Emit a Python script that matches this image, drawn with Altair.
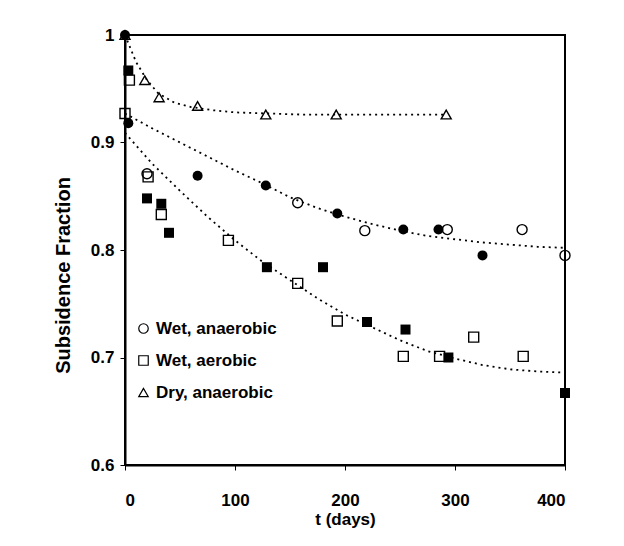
import altair as alt
import pandas as pd

series_names = ["Wet, anaerobic", "Wet, aerobic", "Dry, anaerobic"]
series_shapes = ["circle", "square", "triangle-up"]

# Wet, anaerobic (circles)
wan_open_t = [20, 157, 218, 293, 361, 400]
wan_open_y = [0.871, 0.844, 0.818, 0.819, 0.819, 0.795]
wan_fill_t = [0, 3, 66, 128, 193, 253, 285, 325]
wan_fill_y = [1.0, 0.918, 0.869, 0.860, 0.834, 0.819, 0.819, 0.795]

# Wet, aerobic (squares)
wae_open_t = [4, 0, 21, 33, 94, 157, 193, 253, 286, 317, 362]
wae_open_y = [0.958, 0.927, 0.868, 0.833, 0.809, 0.769, 0.734, 0.701, 0.701, 0.719, 0.701]
wae_fill_t = [3, 20, 33, 40, 129, 180, 220, 255, 294, 400]
wae_fill_y = [0.967, 0.848, 0.843, 0.816, 0.784, 0.784, 0.733, 0.726, 0.700, 0.667]

# Dry, anaerobic (triangles)
dan_open_t = [0, 18, 31, 66, 128, 192, 292]
dan_open_y = [1.0, 0.958, 0.942, 0.934, 0.926, 0.926, 0.926]

# Fitted curves
fit_dry_t = [0, 10, 20, 30, 45, 60, 80, 100, 130, 160, 200, 250, 292]
fit_dry_y = [1.0, 0.975, 0.958, 0.946, 0.937, 0.933, 0.930, 0.928, 0.927, 0.926, 0.926, 0.926, 0.926]
fit_wan_t = [0, 25, 50, 75, 100, 125, 150, 175, 200, 225, 250, 275, 300, 325, 350, 375, 400]
fit_wan_y = [0.927, 0.913, 0.900, 0.887, 0.874, 0.862, 0.849, 0.839, 0.831, 0.824, 0.818, 0.813, 0.810, 0.807, 0.805, 0.803, 0.802]
fit_wae_t = [0, 25, 50, 75, 100, 125, 150, 175, 200, 225, 250, 275, 300, 325, 350, 375, 400]
fit_wae_y = [0.909, 0.880, 0.855, 0.831, 0.809, 0.789, 0.772, 0.755, 0.740, 0.728, 0.716, 0.706, 0.699, 0.693, 0.689, 0.687, 0.686]


def frame(series, ts, ys):
    return pd.DataFrame({"series": series, "t": ts, "f": ys})


open_df = pd.concat([
    frame("Wet, anaerobic", wan_open_t, wan_open_y),
    frame("Wet, aerobic", wae_open_t, wae_open_y),
    frame("Dry, anaerobic", dan_open_t, dan_open_y),
], ignore_index=True)

fill_df = pd.concat([
    frame("Wet, anaerobic", wan_fill_t, wan_fill_y),
    frame("Wet, aerobic", wae_fill_t, wae_fill_y),
], ignore_index=True)

fit_df = pd.concat([
    frame("Dry, anaerobic", fit_dry_t, fit_dry_y),
    frame("Wet, anaerobic", fit_wan_t, fit_wan_y),
    frame("Wet, aerobic", fit_wae_t, fit_wae_y),
], ignore_index=True)

FONT = "Liberation Sans"

x_enc = alt.X(
    "t:Q",
    scale=alt.Scale(domain=[0, 400], nice=False),
    axis=alt.Axis(
        values=[0, 100, 200, 300, 400],
        title="t (days)",
        labelPadding=22,
        titlePadding=3,
    ),
)
y_enc = alt.Y(
    "f:Q",
    scale=alt.Scale(domain=[0.6, 1.0], nice=False, zero=False),
    axis=alt.Axis(
        values=[0.6, 0.7, 0.8, 0.9, 1.0],
        labelExpr="datum.value == 1 ? '1' : format(datum.value, '.1f')",
        title="Subsidence Fraction",
        labelPadding=6,
        titleX=-52,
        titleY=240,
        titleFontSize=20,
    ),
)

lines = alt.Chart(fit_df).mark_line(
    color="black", strokeDash=[2, 4], strokeWidth=1.8
).encode(x=x_enc, y=y_enc, detail="series:N", order="t:Q")

open_pts = alt.Chart(open_df).mark_point(
    filled=False, color="black", strokeWidth=1.4, size=100, opacity=1
).encode(
    x=x_enc,
    y=y_enc,
    shape=alt.Shape(
        "series:N",
        scale=alt.Scale(domain=series_names, range=series_shapes),
        legend=alt.Legend(
            title=None,
            orient="none",
            legendX=10,
            legendY=285,
            labelFont=FONT,
            labelFontSize=17,
            labelFontWeight="bold",
            labelColor="black",
            symbolSize=90,
            symbolStrokeWidth=1.2,
            rowPadding=14,
            labelOffset=4,
        ),
    ),
)

fill_pts = alt.Chart(fill_df).mark_point(
    filled=True, color="black", size=100, opacity=1
).encode(
    x=x_enc,
    y=y_enc,
    shape=alt.Shape(
        "series:N",
        scale=alt.Scale(domain=series_names, range=series_shapes),
        legend=None,
    ),
)

chart = alt.layer(lines, open_pts, fill_pts).resolve_scale(
    shape="independent"
).resolve_legend(
    shape="independent"
).properties(
    width=440,
    height=430,
    autosize=alt.AutoSizeParams(type="none"),
    padding={"left": 117, "top": 27, "right": 51, "bottom": 66},
).configure_view(
    stroke="black", strokeWidth=2
).configure_axis(
    grid=False,
    domainColor="black",
    domainWidth=2,
    tickColor="black",
    tickSize=5,
    tickWidth=1,
    labelFont=FONT,
    labelFontSize=17,
    labelFontWeight="bold",
    labelColor="black",
    titleFont=FONT,
    titleFontSize=17,
    titleFontWeight="bold",
    titleColor="black",
)

chart.save("out.html", embed_options={"renderer": "svg", "actions": False})
